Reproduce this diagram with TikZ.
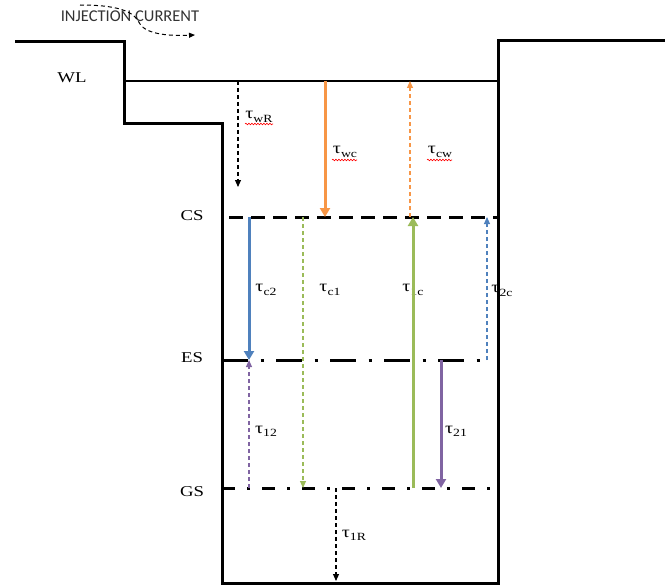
\documentclass[tikz,border=0pt]{standalone}
\usepackage{fontspec}
\setmainfont{Liberation Serif}
\newfontfamily\lblfont[FakeStretch=1.25]{Liberation Serif}
\newfontfamily\injfont{Carlito}
\usetikzlibrary{arrows.meta,decorations.pathmorphing}
\definecolor{oorange}{HTML}{F79646}
\definecolor{oblue}{HTML}{4F81BD}
\definecolor{ogreen}{HTML}{9BBB59}
\definecolor{opurple}{HTML}{8064A2}
\newcommand\tlab[1]{τ\raisebox{-0.45ex}{\fontsize{11}{11}\selectfont #1}}
\begin{document}
\begin{tikzpicture}[x=1pt,y=-1pt,
  wall/.style={line width=3pt,line join=miter},
  solidarr/.style={line width=3pt,-{Triangle[length=9pt,width=10pt]}},
  dasharr/.style={line width=1.1pt,dash pattern=on 4pt off 3pt,-{Triangle[length=7pt,width=6pt]}},
  statelbl/.style={font=\lblfont\fontsize{15}{15}\selectfont,inner sep=0pt},
  taulbl/.style={font=\lblfont\fontsize{16}{16}\selectfont,inner sep=0pt},
  squig/.style={red,line width=0.6pt,decorate,decoration={snake,amplitude=0.8pt,segment length=3pt}}]
\useasboundingbox (0,0) rectangle (665,586);

% labels
\node[statelbl] (WL) at (72,78) {WL};
\node[statelbl] (CS) at (192,216) {CS};
\node[statelbl] (ES) at (192,358) {ES};
\node[statelbl] (GS) at (192,492) {GS};
\node[font=\injfont\fontsize{16.5}{16.5}\selectfont,text=black!80,inner sep=0pt] (inj) at (130,16) {INJECTION CURRENT};

\node[taulbl] (lwR) at (259,117) {\tlab{wR}};
\node[taulbl] (lwc) at (345,152) {\tlab{wc}};
\node[taulbl] (lcw) at (440,152) {\tlab{cw}};
\node[taulbl] (lc2) at (266,290) {\tlab{c2}};
\node[taulbl] (lc1) at (330,290) {\tlab{c1}};
\node[taulbl] (l1c) at (413,290) {\tlab{1c}};
\node[taulbl] (l2c) at (502,291) {\tlab{2c}};
\node[taulbl] (l12) at (266,431) {\tlab{12}};
\node[taulbl] (l21) at (456,431) {\tlab{21}};
\node[taulbl] (l1R) at (354,535) {\tlab{1R}};

\draw[squig] (245,124) -- (273,124);
\draw[squig] (332,160) -- (357,160);
\draw[squig] (427,160) -- (452,160);

% injection current arrow
\coordinate (injA) at (80,5);
\coordinate (injB) at (195,35);
\draw[line width=1pt,dash pattern=on 4pt off 3pt,-{Triangle[length=6pt,width=5pt]}]
  (injA) .. controls (125,5) and (135,14) .. (140,24) .. controls (147,35) and (172,36) .. (injB);

% well walls
\draw[wall] (15,42) -- (124,42) -- (124,124) -- (222,124) -- (222,583) -- (498,583) -- (498,40.5) -- (665,40.5);
\draw[line width=2.8pt] (124,81) -- (498,81);

% levels
\draw[line width=3pt,dash pattern=on 14pt off 8pt] (229,217) -- (497,217);
\draw[line width=3pt,dash pattern=on 26pt off 12.5pt on 3pt off 12.5pt] (222,360) -- (483,360);
\draw[line width=3pt,dash pattern=on 13pt off 12pt on 3pt off 12pt] (222,488) -- (490,488);

% endpoints
\coordinate (wRa) at (238,81);  \coordinate (wRb) at (238,187);
\coordinate (wca) at (325,81);  \coordinate (wcb) at (325,217);
\coordinate (cwa) at (410,217); \coordinate (cwb) at (410,81);
\coordinate (c2a) at (249,217); \coordinate (c2b) at (249,360);
\coordinate (c1a) at (303,217); \coordinate (c1b) at (303,488);
\coordinate (1ca) at (413,488); \coordinate (1cb) at (413,217);
\coordinate (2ca) at (487,360); \coordinate (2cb) at (487,217);
\coordinate (12a) at (249,488); \coordinate (12b) at (249,360);
\coordinate (21a) at (441,360); \coordinate (21b) at (441,488);
\coordinate (1Ra) at (336,488); \coordinate (1Rb) at (336,581);

% arrows
\draw[dasharr,black] (wRa) -- (wRb);
\draw[solidarr,oorange] (wca) -- (wcb);
\draw[dasharr,oorange] (cwa) -- (cwb);
\draw[solidarr,oblue] (c2a) -- (c2b);
\draw[dasharr,ogreen] (c1a) -- (c1b);
\draw[solidarr,ogreen] (1ca) -- (1cb);
\draw[dasharr,oblue] (2ca) -- (2cb);
\draw[dasharr,opurple] (12a) -- (12b);
\draw[solidarr,opurple] (21a) -- (21b);
\draw[dasharr,black] (1Ra) -- (1Rb);

% redraw right wall over label
\draw[line width=3pt] (498,300) -- (498,280);
\end{tikzpicture}
\end{document}
